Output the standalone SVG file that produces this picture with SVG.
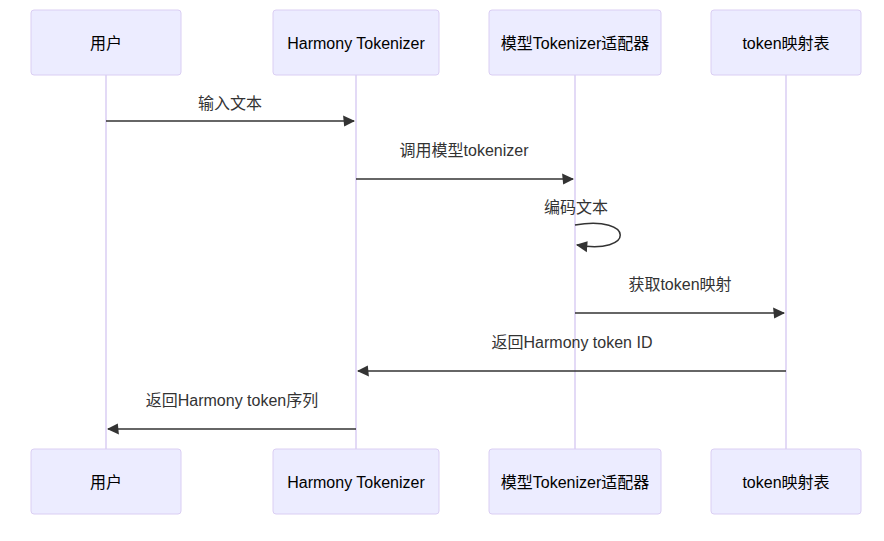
<svg xmlns="http://www.w3.org/2000/svg" width="884" height="541" viewBox="0 0 884 541">
<style>
.actor rect{fill:#ececff;stroke:#dacef3;stroke-width:1}
.actor text{font-family:"Liberation Sans","Noto Sans CJK SC",sans-serif;font-size:16px;fill:#000;text-anchor:middle;dominant-baseline:central}
.life{stroke:#dacef3;stroke-width:1.5}
.msg{stroke:#333;stroke-width:1.5;fill:none}
.lbl{font-family:"Liberation Sans","Noto Sans CJK SC",sans-serif;font-size:16px;fill:#333;text-anchor:middle}
</style>
<defs>
<marker id="arrow" viewBox="-1 0 11 10" refX="9" refY="5" markerWidth="12" markerHeight="12" markerUnits="userSpaceOnUse" orient="auto">
<path d="M -1 0 L 10 5 L 0 10 z" fill="#333"/>
</marker>
</defs>
<g id="lifelines">
<line class="life" x1="106" y1="75" x2="106" y2="449"/>
<line class="life" x1="356" y1="75" x2="356" y2="449"/>
<line class="life" x1="575" y1="75" x2="575" y2="449"/>
<line class="life" x1="786" y1="75" x2="786" y2="449"/>
</g>
<g id="user" class="actor"><rect x="31" y="10" width="150" height="65" rx="3"/><text x="106" y="43">用户</text></g>
<g id="harmony" class="actor"><rect x="273" y="10" width="166" height="65" rx="3"/><text x="356" y="43">Harmony Tokenizer</text></g>
<g id="adapter" class="actor"><rect x="489" y="10" width="172" height="65" rx="3"/><text x="575" y="43">模型Tokenizer适配器</text></g>
<g id="map" class="actor"><rect x="711" y="10" width="150" height="65" rx="3"/><text x="786" y="43">token映射表</text></g>
<g id="user-bottom" class="actor"><rect x="31" y="449" width="150" height="65" rx="3"/><text x="106" y="482">用户</text></g>
<g id="harmony-bottom" class="actor"><rect x="273" y="449" width="166" height="65" rx="3"/><text x="356" y="482">Harmony Tokenizer</text></g>
<g id="adapter-bottom" class="actor"><rect x="489" y="449" width="172" height="65" rx="3"/><text x="575" y="482">模型Tokenizer适配器</text></g>
<g id="map-bottom" class="actor"><rect x="711" y="449" width="150" height="65" rx="3"/><text x="786" y="482">token映射表</text></g>
<g id="connectors">
<line class="msg" x1="106" y1="121" x2="354" y2="121" marker-end="url(#arrow)"/>
<text class="lbl" x="230" y="109">输入文本</text>
<line class="msg" x1="356" y1="179" x2="573" y2="179" marker-end="url(#arrow)"/>
<text class="lbl" x="464" y="156">调用模型tokenizer</text>
<path class="msg" d="M 575,225 C 635,215 635,255 577,245" marker-end="url(#arrow)"/>
<text class="lbl" x="576" y="213">编码文本</text>
<line class="msg" x1="575" y1="313" x2="784" y2="313" marker-end="url(#arrow)"/>
<text class="lbl" x="680" y="290">获取token映射</text>
<line class="msg" x1="786" y1="371" x2="358" y2="371" marker-end="url(#arrow)"/>
<text class="lbl" x="572" y="348">返回Harmony token ID</text>
<line class="msg" x1="356" y1="429" x2="108" y2="429" marker-end="url(#arrow)"/>
<text class="lbl" x="232" y="406">返回Harmony token序列</text>
</g>
</svg>
